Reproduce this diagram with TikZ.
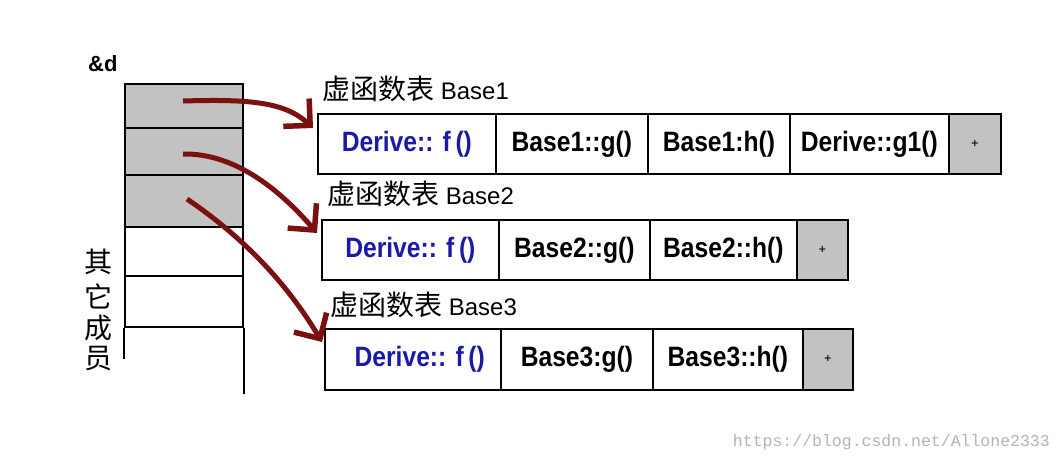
\documentclass[tikz,border=0pt]{standalone}
\usepackage{fontspec}
\setmainfont{Liberation Sans}
\newfontfamily\cjk{Noto Sans CJK SC}
\newfontfamily\wmfont{Liberation Mono}
\newfontfamily\cellfont[FakeStretch=0.88]{Liberation Sans}
\usetikzlibrary{arrows.meta}
\definecolor{arrred}{HTML}{7A1010}
\definecolor{fblue}{HTML}{1A1AA8}
\definecolor{cellgray}{HTML}{C2C2C2}
\definecolor{wmgray}{HTML}{B4B4B4}
\begin{document}
\begin{tikzpicture}[x=1pt,y=-1pt,
  cell/.style={draw, line width=1.8pt, rectangle, inner sep=0pt, anchor=north west,
    font=\cellfont\fontsize{28}{30}\selectfont\bfseries},
  fcell/.style={cell, text=fblue},
  gcell/.style={cell, fill=cellgray},
  stack/.style={draw, line width=1.8pt, rectangle, inner sep=0pt, anchor=north west, minimum width=118pt},
  gstack/.style={stack, fill=cellgray},
  tlabel/.style={anchor=base west, inner sep=0pt},
  cjkbig/.style={font=\cjk\fontsize{28}{30}\selectfont, inner sep=0pt},
  dotmark/.style={font=\fontsize{12}{12}\selectfont\bfseries, text=black!85},
  arr/.style={draw=arrred, line width=5pt, -{Straight Barb[length=19pt,width=38pt,line width=5.5pt]}}
]
\useasboundingbox[fill=white] (0,0) rectangle (1062,459);

% left stack (object layout)
\node[tlabel, font=\fontsize{22}{24}\selectfont\bfseries] (amp) at (88,71) {\&d};
\node[gstack, minimum height=44pt] (s1) at (124,83) {};
\node[gstack, minimum height=47pt] (s2) at (124,127) {};
\node[gstack, minimum height=52pt] (s3) at (124,174) {};
\node[stack, minimum height=49pt] (s4) at (124,226) {};
\node[stack, minimum height=51pt] (s5) at (124,275) {};
\coordinate (sl) at ([yshift=-31pt]s5.south west);
\coordinate (sr) at ([yshift=-66pt]s5.south east);
\draw[line width=1.8pt] (s5.south west) -- (sl);
\draw[line width=1.8pt] (s5.south east) -- (sr);

\node[cjkbig] (q1) at (98,262) {其};
\node[cjkbig] (q2) at (98,296) {它};
\node[cjkbig] (q3) at (98,328) {成};
\node[cjkbig] (q4) at (98,359) {员};

% table Base1
\node[tlabel] (l1) at (322,99) {{\cjk\fontsize{28}{30}\selectfont 虚函数表}\fontsize{24}{28}\selectfont\ Base1};
\node[fcell, minimum width=178pt, minimum height=60pt] (t1a) at (317,113) {Derive:: f\,()};
\node[cell, minimum width=152pt, minimum height=60pt] (t1b) at (495,113) {Base1::g()};
\node[cell, minimum width=142pt, minimum height=60pt] (t1c) at (647,113) {Base1:h()};
\node[cell, minimum width=159pt, minimum height=60pt] (t1d) at (789,113) {Derive::g1()};
\node[gcell, minimum width=52pt, minimum height=60pt] (t1e) at (948,113) {};
\node[dotmark] (m1) at (t1e.center) {+};

% table Base2
\node[tlabel] (l2) at (327,204) {{\cjk\fontsize{28}{30}\selectfont 虚函数表}\fontsize{24}{28}\selectfont\ Base2};
\node[fcell, minimum width=177pt, minimum height=60pt] (t2a) at (321,219) {Derive:: f\,()};
\node[cell, minimum width=151pt, minimum height=60pt] (t2b) at (498,219) {Base2::g()};
\node[cell, minimum width=147pt, minimum height=60pt] (t2c) at (649,219) {Base2::h()};
\node[gcell, minimum width=51pt, minimum height=60pt] (t2d) at (796,219) {};
\node[dotmark] (m2) at (t2d.center) {+};

% table Base3
\node[tlabel] (l3) at (330,315) {{\cjk\fontsize{28}{30}\selectfont 虚函数表}\fontsize{24}{28}\selectfont\ Base3};
\node[fcell, minimum width=176pt, minimum height=61pt] (t3a) at (324,328) {\ \ Derive:: f\,()};
\node[cell, minimum width=152pt, minimum height=61pt] (t3b) at (500,328) {Base3:g()};
\node[cell, minimum width=150pt, minimum height=61pt] (t3c) at (652,328) {Base3::h()};
\node[gcell, minimum width=50pt, minimum height=61pt] (t3d) at (802,328) {};
\node[dotmark] (m3) at (t3d.center) {+};

% arrows
\coordinate (a1) at (183,101);
\coordinate (a2) at (183,154);
\coordinate (a3) at (187,199);
\coordinate (e1) at ([shift={(-4,15)}]t1a.north west);
\coordinate (e2) at ([shift={(-4,14)}]t2a.north west);
\coordinate (e3) at ([shift={(-2,14)}]t3a.north west);
\draw[arr] (a1) .. controls +(67,-2) and +(-28,-26) .. (e1);
\draw[arr] (a2) .. controls +(52,-1) and +(-37,-43) .. (e2);
\draw[arr] (a3) .. controls +(53,36) and +(-37,-62) .. (e3);

% watermark
\node[anchor=base east, inner sep=0pt, text=wmgray, font=\wmfont\fontsize{16.5}{18}\selectfont] (wm) at (1050,446) {https://blog.csdn.net/Allone2333};
\end{tikzpicture}
\end{document}
